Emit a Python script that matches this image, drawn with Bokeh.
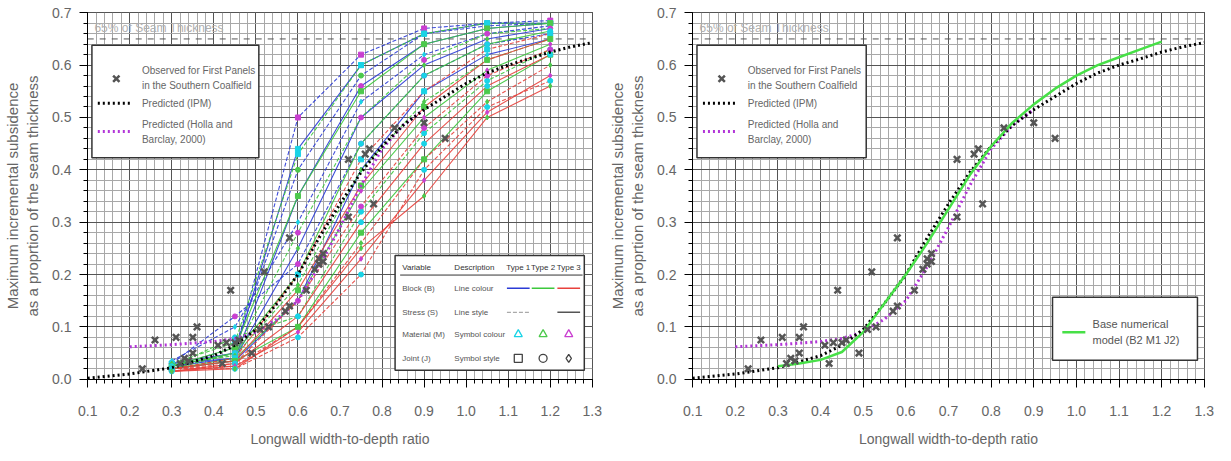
from bokeh.plotting import figure
from bokeh.models import Range1d, FixedTicker, PrintfTickFormatter
from bokeh.layouts import row
from bokeh.core.properties import value
from bokeh.embed import file_html
from bokeh.resources import INLINE
import numpy as np

# ---------------- data ----------------
width_ratio = [0.3, 0.45, 0.6, 0.75, 0.9, 1.05, 1.2]

sim_labels = [
    "B1 S1 M3 J1", "B1 S3 M1 J1", "B1 S1 M2 J2", "B1 S3 M3 J2",
    "B1 S1 M1 J3", "B1 S3 M2 J3", "B1 S1 M3 J2", "B1 S3 M1 J3",
    "B2 S1 M1 J1", "B2 S3 M2 J1", "B2 S1 M3 J2", "B2 S3 M1 J2",
    "B2 S1 M2 J3", "B2 S3 M3 J3", "B2 S1 M1 J2", "B2 S3 M2 J1",
    "B3 S1 M1 J1", "B3 S3 M2 J1", "B3 S1 M3 J2", "B3 S3 M1 J2",
    "B3 S1 M2 J3", "B3 S3 M3 J3", "B3 S1 M1 J2", "B3 S3 M2 J3",
]
sim_values = [
    [0.020, 0.050, 0.500, 0.620, 0.670, 0.680, 0.685],
    [0.030, 0.050, 0.440, 0.600, 0.660, 0.680, 0.680],
    [0.025, 0.060, 0.400, 0.580, 0.660, 0.675, 0.680],
    [0.030, 0.040, 0.350, 0.560, 0.640, 0.670, 0.680],
    [0.035, 0.100, 0.300, 0.530, 0.620, 0.660, 0.675],
    [0.025, 0.040, 0.250, 0.500, 0.600, 0.650, 0.670],
    [0.030, 0.120, 0.220, 0.450, 0.580, 0.640, 0.660],
    [0.020, 0.035, 0.150, 0.400, 0.550, 0.620, 0.650],
    [0.030, 0.070, 0.430, 0.600, 0.660, 0.680, 0.680],
    [0.025, 0.060, 0.350, 0.550, 0.640, 0.670, 0.680],
    [0.020, 0.050, 0.280, 0.500, 0.610, 0.660, 0.670],
    [0.025, 0.050, 0.200, 0.450, 0.580, 0.640, 0.665],
    [0.030, 0.045, 0.180, 0.400, 0.530, 0.610, 0.650],
    [0.020, 0.040, 0.150, 0.360, 0.500, 0.590, 0.640],
    [0.025, 0.080, 0.120, 0.320, 0.470, 0.570, 0.630],
    [0.020, 0.035, 0.100, 0.280, 0.420, 0.550, 0.620],
    [0.020, 0.040, 0.200, 0.420, 0.550, 0.630, 0.660],
    [0.020, 0.035, 0.170, 0.370, 0.520, 0.610, 0.650],
    [0.020, 0.030, 0.150, 0.330, 0.480, 0.580, 0.630],
    [0.015, 0.030, 0.120, 0.300, 0.450, 0.560, 0.620],
    [0.020, 0.025, 0.100, 0.260, 0.420, 0.530, 0.600],
    [0.015, 0.025, 0.090, 0.230, 0.380, 0.510, 0.580],
    [0.020, 0.020, 0.080, 0.200, 0.400, 0.520, 0.570],
    [0.015, 0.020, 0.100, 0.250, 0.350, 0.500, 0.560],
]

obs_x = [0.23, 0.26, 0.31, 0.32, 0.33, 0.34, 0.35, 0.35, 0.36, 0.41, 0.42, 0.43,
         0.44, 0.45, 0.46, 0.49, 0.51, 0.52, 0.53, 0.57, 0.58, 0.58, 0.62, 0.64,
         0.65, 0.65, 0.66, 0.66, 0.72, 0.72, 0.76, 0.77, 0.78, 0.83, 0.90, 0.95]
obs_y = [0.020, 0.075, 0.080, 0.030, 0.040, 0.035, 0.080, 0.050, 0.100, 0.065, 0.030, 0.070,
         0.170, 0.070, 0.075, 0.050, 0.095, 0.205, 0.100, 0.130, 0.270, 0.140, 0.170, 0.210,
         0.230, 0.220, 0.240, 0.225, 0.420, 0.310, 0.430, 0.440, 0.335, 0.480, 0.490, 0.460]

ipm_x = [0.1, 0.2, 0.3, 0.4, 0.45, 0.5, 0.55, 0.6, 0.65, 0.7, 0.75, 0.8, 0.85,
         0.9, 0.95, 1.0, 1.05, 1.1, 1.15, 1.2, 1.25, 1.3]
ipm_y = [0.002, 0.010, 0.022, 0.045, 0.065, 0.095, 0.145, 0.200, 0.270, 0.335, 0.395,
         0.445, 0.485, 0.515, 0.540, 0.565, 0.585, 0.600, 0.612, 0.625, 0.635, 0.643]

holla_x = [0.2, 0.3, 0.4, 0.45, 0.5, 0.55, 0.6, 0.65, 0.7, 0.75, 0.8, 0.85, 0.9]
holla_y = [0.062, 0.066, 0.072, 0.078, 0.090, 0.115, 0.150, 0.215, 0.290, 0.370,
           0.440, 0.485, 0.515]

base_x = [0.3, 0.35, 0.4, 0.45, 0.5, 0.55, 0.6, 0.65, 0.7, 0.75, 0.8, 0.85, 0.9,
          0.95, 1.0, 1.05, 1.1, 1.15, 1.2]
base_y = [0.025, 0.030, 0.037, 0.052, 0.090, 0.145, 0.200, 0.260, 0.325, 0.390, 0.445,
          0.490, 0.525, 0.555, 0.580, 0.600, 0.615, 0.630, 0.645]

seam_fraction = 0.65
x_major = [0.1, 0.2, 0.3, 0.4, 0.5, 0.6, 0.7, 0.8, 0.9, 1.0, 1.1, 1.2, 1.3]
y_major = [0.0, 0.1, 0.2, 0.3, 0.4, 0.5, 0.6, 0.7]

table_rows = [("Block (B)", "Line colour"), ("Stress (S)", "Line style"),
              ("Material (M)", "Symbol colour"), ("Joint (J)", "Symbol style")]
table_types = ["Type 1", "Type 2", "Type 3"]

# ---------------- styles ----------------
FONT = "Liberation Sans"
TXT = "#666666"
block_colors = {"B1": "#2b3bd6", "B2": "#3cc83c", "B3": "#e8413c"}
stress_dash = {"S1": "4 2", "S3": "solid"}
material_colors = {"M1": "#19d3e6", "M2": "#4cc94c", "M3": "#c93fd0"}
joint_markers = {"J1": "square", "J2": "circle", "J3": "diamond"}
x_minor = list(np.round(np.arange(0.1, 1.3001, 0.02), 3))
y_minor = list(np.round(np.arange(0.0, 0.7001, 0.02), 3))


def make_fig(width, min_left):
    p = figure(width=width, height=450, x_range=Range1d(0.0995, 1.3005),
               y_range=Range1d(-0.0005, 0.7005), output_backend="svg",
               toolbar_location=None, min_border_left=min_left, min_border_right=10,
               min_border_top=12, min_border_bottom=71)
    p.xaxis.ticker = FixedTicker(ticks=x_major, minor_ticks=x_minor)
    p.yaxis.ticker = FixedTicker(ticks=y_major, minor_ticks=y_minor)
    p.xaxis.formatter = PrintfTickFormatter(format="%.1f")
    p.yaxis.formatter = PrintfTickFormatter(format="%.1f")
    p.grid.grid_line_color = "#555555"
    p.grid.grid_line_width = 1
    p.grid.minor_grid_line_color = "#a8a8a8"
    p.grid.minor_grid_line_width = 1
    p.outline_line_color = "black"
    p.outline_line_width = 1
    for ax in (p.xaxis, p.yaxis):
        ax.axis_line_color = "black"
        ax.major_tick_line_color = "black"
        ax.minor_tick_line_color = "black"
        ax.major_tick_in = 0
        ax.minor_tick_in = 0
        ax.major_tick_out = 8
        ax.minor_tick_out = 4
        ax.major_label_text_font = FONT
        ax.major_label_text_font_size = "14px"
        ax.major_label_text_color = TXT
        ax.axis_label_text_font = FONT
        ax.axis_label_text_color = TXT
        ax.axis_label_text_font_style = "normal"
    p.xaxis.major_label_standoff = 18
    p.yaxis.major_label_standoff = 8
    p.xaxis.axis_label = "Longwall width-to-depth ratio"
    p.xaxis.axis_label_text_font_size = "14px"
    p.xaxis.axis_label_standoff = 12
    p.yaxis.axis_label = "Maximum incremental subsidence\nas a proprtion of the seam thickness"
    p.yaxis.axis_label_text_font_size = "15px"
    p.yaxis.axis_label_standoff = 8
    p.background_fill_color = "white"
    p.border_fill_color = "white"
    return p


def txt(p, x, y, s, size="10px", color=TXT, align="left"):
    p.text(x=[x], y=[y], text=[s], text_font=value(FONT), text_font_size=value(size),
           text_color=color, text_align=align, text_baseline="middle")


def threshold(p):
    p.line([0.1, 1.3], [seam_fraction, seam_fraction], line_color="#555555",
           line_dash="6 6", line_width=1)
    txt(p, 0.116, 0.671, "65% of Seam Thickness", size="12px", color="#b0b0b0")


def predictions(p):
    p.line(holla_x, holla_y, line_color="#b235d8", line_width=3, line_dash="2 3")
    p.line(ipm_x, ipm_y, line_color="black", line_width=3, line_dash="2 3")


def observed(p):
    p.scatter(obs_x, obs_y, marker="x", size=9, line_width=2.5, line_color="#555555")


def main_legend(p):
    p.quad(left=[0.110], right=[0.507], top=[0.638], bottom=[0.423],
           fill_color="white", line_color="#333333", line_width=1.5)
    p.scatter([0.168], [0.574], marker="x", size=9, line_width=2.5, line_color="#555555")
    txt(p, 0.229, 0.589, "Observed for First Panels")
    txt(p, 0.229, 0.561, "in the Southern Coalfield")
    p.line([0.124, 0.203], [0.527, 0.527], line_color="black", line_width=3, line_dash="2 3")
    txt(p, 0.229, 0.527, "Predicted (IPM)")
    p.line([0.124, 0.203], [0.473, 0.473], line_color="#b235d8", line_width=3, line_dash="2 3")
    txt(p, 0.229, 0.487, "Predicted (Holla and")
    txt(p, 0.229, 0.458, "Barclay, 2000)")


# ---------------- left chart ----------------
p1 = make_fig(602, 80)
threshold(p1)
for lab, ys in zip(sim_labels, sim_values):
    b, s, m, j = lab.split()
    p1.line(width_ratio, ys, line_color=block_colors[b], line_dash=stress_dash[s],
            line_width=1.1, line_alpha=0.9)
for lab, ys in zip(sim_labels, sim_values):
    b, s, m, j = lab.split()
    p1.scatter(width_ratio, ys, marker=joint_markers[j], size=5,
               fill_color=material_colors[m], line_color=material_colors[m])
predictions(p1)
observed(p1)
main_legend(p1)

# variable table legend
p1.quad(left=[0.831], right=[1.281], top=[0.2365], bottom=[0.0172],
        fill_color="white", line_color="#333333", line_width=1.5)
col_x = [1.124, 1.183, 1.244]
row_y = [0.1736, 0.1278, 0.0858, 0.040]
txt(p1, 0.848, 0.2136, "Variable", size="8px", color="#333333")
txt(p1, 0.972, 0.2136, "Description", size="8px", color="#333333")
for cx, t in zip(col_x, table_types):
    txt(p1, cx, 0.2136, t, size="8px", color="#333333", align="center")
p1.line([0.843, 1.277], [0.199, 0.199], line_color="#333333", line_width=1)
for ry, (var, desc) in zip(row_y, table_rows):
    txt(p1, 0.848, ry, var, size="8px", color="#555555")
    txt(p1, 0.972, ry, desc, size="8px", color="#555555")
for cx, b in zip(col_x, ["B1", "B2", "B3"]):
    p1.line([cx - 0.027, cx + 0.027], [row_y[0], row_y[0]], line_color=block_colors[b], line_width=1.5)
p1.line([col_x[0] - 0.027, col_x[0] + 0.027], [row_y[1], row_y[1]], line_color="#aaaaaa",
        line_width=1.2, line_dash=stress_dash["S1"])
p1.line([col_x[2] - 0.027, col_x[2] + 0.027], [row_y[1], row_y[1]], line_color="#555555",
        line_width=1.5, line_dash=stress_dash["S3"])
for cx, m in zip(col_x, ["M1", "M2", "M3"]):
    p1.scatter([cx], [row_y[2]], marker="triangle", size=8, fill_color=None,
               line_color=material_colors[m], line_width=1.3)
for cx, j in zip(col_x, ["J1", "J2", "J3"]):
    p1.scatter([cx], [row_y[3]], marker=joint_markers[j], size=8, fill_color=None,
               line_color="#444444", line_width=1.3)

# ---------------- right chart ----------------
p2 = make_fig(612, 90)
threshold(p2)
predictions(p2)
p2.line(base_x, base_y, line_color="#47e047", line_width=2.5)
observed(p2)
main_legend(p2)
p2.quad(left=[0.944], right=[1.284], top=[0.1564], bottom=[0.0362],
        fill_color="white", line_color="#333333", line_width=1.5)
p2.line([0.967, 1.021], [0.0896, 0.0896], line_color="#47e047", line_width=2.5)
txt(p2, 1.038, 0.105, "Base numerical", size="11px", color="#555555")
txt(p2, 1.038, 0.0744, "model (B2 M1 J2)", size="11px", color="#555555")

layout = row(p1, p2)
open("out.html", "w").write(file_html(layout, INLINE))
